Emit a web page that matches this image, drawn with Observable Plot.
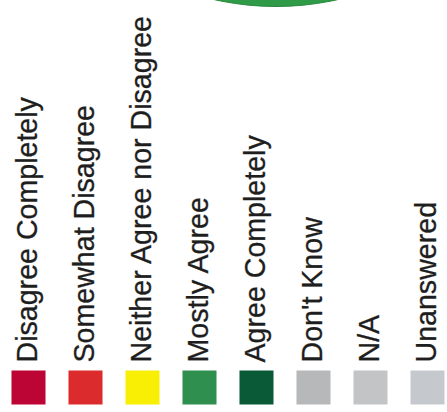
<!DOCTYPE html>
<html>
<head>
<meta charset="utf-8">
<script src="https://cdn.jsdelivr.net/npm/d3@7"></script>
<script src="https://cdn.jsdelivr.net/npm/@observablehq/plot@0.6"></script>
<style>
  html, body { margin: 0; padding: 0; background: #fff; }
  #chart { width: 447px; height: 412px; overflow: hidden; }
</style>
</head>
<body>
<div id="chart"></div>
<script>
const categories = [
  "Disagree Completely",
  "Somewhat Disagree",
  "Neither Agree nor Disagree",
  "Mostly Agree",
  "Agree Completely",
  "Don't Know",
  "N/A",
  "Unanswered"
];
const colors = ["#bd0535", "#dc2b2c", "#f8ef04", "#2f8f4f", "#0b5a37", "#b7b8b9", "#c3c4c6", "#c5c9ce"];
const pieSlice = ["Agree Completely (pie edge)"];
const pieColor = "#2f9a47";

const data = categories.map((c, i) => ({category: c, color: colors[i]}));

const chart = Plot.plot({
  width: 447,
  height: 412,
  margin: 0,
  x: {type: "point", domain: categories, range: [26, 428], padding: 0, axis: null},
  y: {axis: null},
  style: {background: "#fff"},
  marks: [
    Plot.dot(pieSlice, {
      frameAnchor: "top",
      dx: 52,
      dy: -277,
      r: 283,
      fill: pieColor,
      stroke: "#2a8a3e",
      strokeWidth: 1
    }),
    Plot.dot(data, {
      x: "category",
      frameAnchor: "bottom",
      dy: -25,
      symbol: "square",
      r: 19.2,
      fill: "color",
      stroke: null
    }),
    Plot.text(data, {
      x: "category",
      text: "category",
      frameAnchor: "bottom",
      dy: -50,
      dx: 8,
      rotate: -90,
      textAnchor: "start",
      fontSize: 28.6,
      fontFamily: "Liberation Sans, Arial, sans-serif",
      fill: "#1e1e1e",
      stroke: "#1e1e1e",
      strokeWidth: 0.3
    })
  ]
});
document.getElementById("chart").appendChild(chart);
</script>
</body>
</html>
